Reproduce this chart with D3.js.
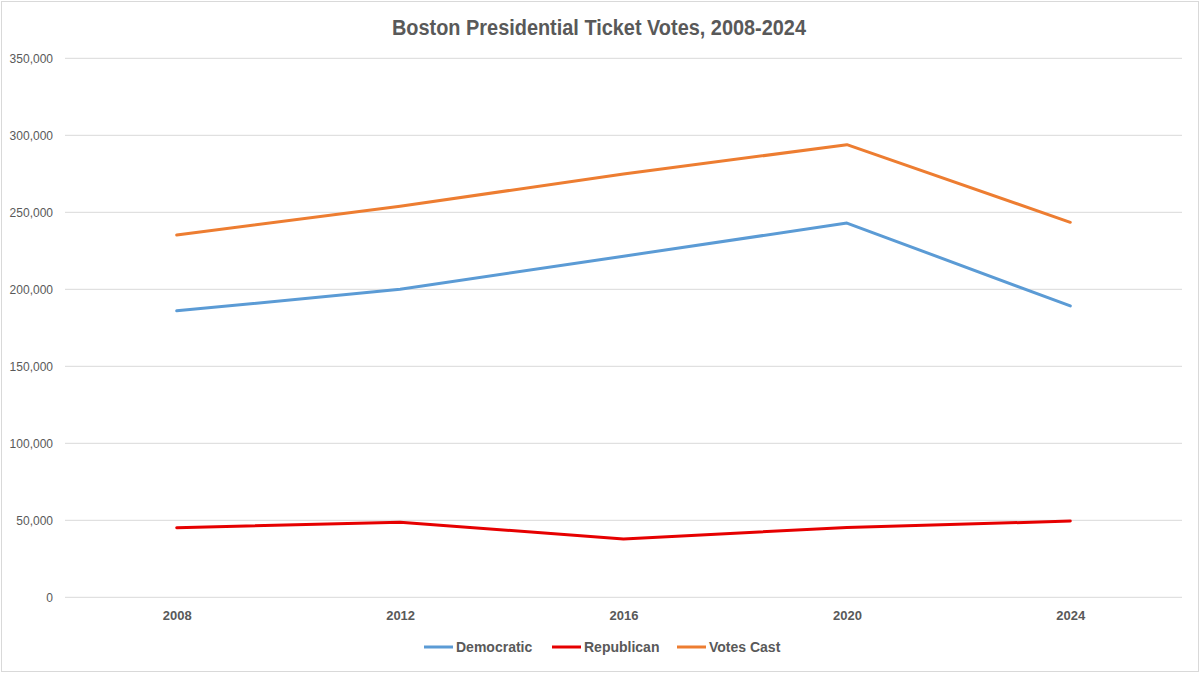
<!DOCTYPE html>
<html><head><meta charset="utf-8">
<script src="https://cdn.jsdelivr.net/npm/d3@7"></script>
<style>
html,body{margin:0;padding:0;background:#fff;}
svg{display:block;}
</style></head>
<body>
<svg id="chart" width="1200" height="673"></svg>
<script>
const years = ["2008","2012","2016","2020","2024"];
const democratic = [186000, 200000, 221500, 243000, 189200];
const republican = [45200, 48700, 37900, 45300, 49500];
const votesCast = [235300, 254000, 274800, 293900, 243500];
const yTicks = [0, 50000, 100000, 150000, 200000, 250000, 300000, 350000];
const seriesNames = ["Democratic", "Republican", "Votes Cast"];
const seriesColors = ["#5B9BD5", "#E60000", "#ED7D31"];
const titleText = "Boston Presidential Ticket Votes, 2008-2024";

const series = [democratic, republican, votesCast];
const svg = d3.select("#chart");
const W = 1200, H = 673;
const m = {left: 65, right: 18, top: 58.3, bottom: 75.7};

svg.append("rect").attr("x",1.5).attr("y",1.5).attr("width",W-3).attr("height",H-3)
  .attr("fill","#fff").attr("stroke","#d9d9d9").attr("stroke-width",1);

const x = d3.scalePoint().domain(years).range([m.left, W - m.right]).padding(0.5);
const y = d3.scaleLinear().domain([0, 350000]).range([H - m.bottom, m.top]);

// gridlines
svg.append("g").selectAll("line").data(yTicks).join("line")
  .attr("x1", m.left).attr("x2", W - m.right)
  .attr("y1", d => y(d)).attr("y2", d => y(d))
  .attr("stroke", "#d9d9d9").attr("stroke-width", 1);

// y axis
const yAxis = svg.append("g").attr("transform", `translate(${m.left},0)`)
  .call(d3.axisLeft(y).tickValues(yTicks).tickFormat(d3.format(",")).tickSize(0).tickPadding(12));
yAxis.select(".domain").remove();
yAxis.selectAll("text").attr("fill","#595959").style("font-family","'Liberation Sans', Arial, sans-serif").style("font-size","12px");

// x axis
const xAxis = svg.append("g").attr("transform", `translate(0,${H - m.bottom})`)
  .call(d3.axisBottom(x).tickSize(0).tickPadding(13));
xAxis.select(".domain").remove();
xAxis.selectAll("text").attr("fill","#595959").style("font-family","'Liberation Sans', Arial, sans-serif").style("font-size","13px").style("font-weight","bold");

// lines
const line = d3.line().x((d,i) => x(years[i])).y(d => y(d));
series.forEach((s, k) => {
  svg.append("path").datum(s).attr("d", line)
    .attr("fill","none").attr("stroke", seriesColors[k]).attr("stroke-width", 3)
    .attr("stroke-linejoin","round").attr("stroke-linecap","round");
});

// title
svg.append("text").attr("x", 599).attr("y", 35).attr("text-anchor","middle")
  .attr("fill","#595959").style("font-family","'Liberation Sans', Arial, sans-serif")
  .style("font-size","22px").style("font-weight","bold")
  .attr("textLength", 414).attr("lengthAdjust","spacingAndGlyphs").text(titleText);

// legend
const legendX = [424, 552, 677];
const lg = svg.append("g");
seriesNames.forEach((n, k) => {
  const g = lg.append("g").attr("transform", `translate(${legendX[k]},647)`);
  g.append("line").attr("x1",0).attr("x2",29).attr("y1",0).attr("y2",0)
    .attr("stroke", seriesColors[k]).attr("stroke-width",3);
  g.append("text").attr("x",32).attr("y",5).attr("fill","#595959")
    .style("font-family","'Liberation Sans', Arial, sans-serif").style("font-size","14px").style("font-weight","bold")
    .text(n);
});
</script>
</body></html>
